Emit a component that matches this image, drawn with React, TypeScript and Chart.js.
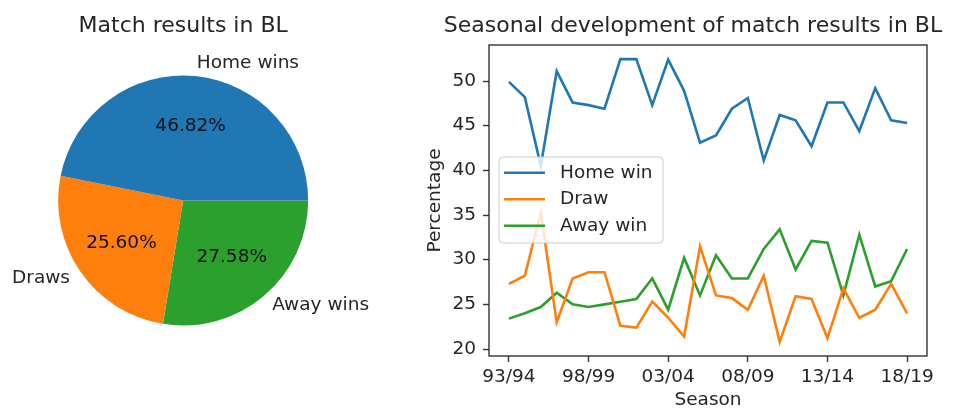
import React, { useEffect, useRef } from 'react';
import { Chart, registerables } from 'chart.js';
Chart.register(...registerables);

// ---------- data ----------
const pieLabels = ['Home wins', 'Draws', 'Away wins'];
const pieValues = [46.82, 25.6, 27.58];
const pieColors = ['#1f77b4', '#ff7f0e', '#2ca02c'];

const seasons = [
  '93/94', '94/95', '95/96', '96/97', '97/98', '98/99', '99/00', '00/01', '01/02',
  '02/03', '03/04', '04/05', '05/06', '06/07', '07/08', '08/09', '09/10', '10/11',
  '11/12', '12/13', '13/14', '14/15', '15/16', '16/17', '17/18', '18/19',
];
const homeWin = [
  49.9, 48.2, 40.5, 51.1, 47.6, 47.3, 46.9, 52.45, 52.45, 47.3, 52.4, 48.9, 43.1,
  43.9, 46.9, 48.1, 41.1, 46.2, 45.6, 42.7, 47.6, 47.6, 44.4, 49.2, 45.6, 45.3,
];
const draw = [
  27.3, 28.2, 35.3, 23.0, 27.9, 28.6, 28.6, 22.6, 22.4, 25.3, 23.5, 21.4, 31.5,
  26.0, 25.7, 24.4, 28.2, 20.8, 25.9, 25.6, 21.2, 26.8, 23.5, 24.4, 27.3, 24.0,
];
const awayWin = [
  23.4, 24.0, 24.7, 26.3, 25.0, 24.7, 25.0, 25.3, 25.6, 27.9, 24.4, 30.2, 26.0,
  30.5, 27.9, 27.9, 31.2, 33.4, 28.9, 32.1, 31.9, 26.0, 32.8, 27.0, 27.6, 31.2,
];
const seriesNames = ['Home win', 'Draw', 'Away win'];
const seriesColors = ['#1f77b4', '#ff7f0e', '#2ca02c'];
const yTickValues = [20, 25, 30, 35, 40, 45, 50];
const xTickIndices = [0, 5, 10, 15, 20, 25];

const FONT = '"DejaVu Sans", sans-serif';
const TEXT = '#262626';
const AXIS = '#333333';
const SMALL = 18.5;
const BIG = 22;

// ---------- plugins ----------
const pieTextPlugin = {
  id: 'pieText',
  afterDraw(chart: any) {
    const ctx = chart.ctx;
    const meta = chart.getDatasetMeta(0);
    const labels = chart.data.labels;
    const vals = chart.data.datasets[0].data;
    ctx.save();
    ctx.fillStyle = TEXT;
    ctx.textBaseline = 'middle';
    meta.data.forEach((arc: any, i: number) => {
      const p = arc.getProps(['x', 'y', 'startAngle', 'endAngle', 'outerRadius'], true);
      const mid = (p.startAngle + p.endAngle) / 2;
      const c = Math.cos(mid);
      const s = Math.sin(mid);
      ctx.font = `${SMALL}px ${FONT}`;
      ctx.textAlign = c >= 0 ? 'left' : 'right';
      ctx.fillText(labels[i], p.x + c * p.outerRadius * 1.1, p.y + s * p.outerRadius * 1.1);
      ctx.textAlign = 'center';
      ctx.fillStyle = '#111';
      ctx.fillText(Number(vals[i]).toFixed(2) + '%', p.x + c * p.outerRadius * 0.6, p.y + s * p.outerRadius * 0.6);
      ctx.fillStyle = TEXT;
    });
    ctx.font = `${BIG}px ${FONT}`;
    ctx.textAlign = 'center';
    ctx.fillText('Match results in BL', meta.data[0].x, 26);
    ctx.restore();
  },
};

const lineDecorPlugin = {
  id: 'lineDecor',
  afterDraw(chart: any) {
    const ctx = chart.ctx;
    const { left, top, right, bottom } = chart.chartArea;
    ctx.save();
    // frame
    ctx.strokeStyle = AXIS;
    ctx.lineWidth = 1.4;
    ctx.strokeRect(left, top, right - left, bottom - top);
    // title
    ctx.fillStyle = TEXT;
    ctx.font = `${BIG}px ${FONT}`;
    ctx.textAlign = 'center';
    ctx.textBaseline = 'middle';
    ctx.fillText('Seasonal development of match results in BL', 273, 26);
    // legend
    const bx = left + 10;
    const by = top + 112;
    const bw = 164;
    const bh = 86;
    ctx.beginPath();
    ctx.roundRect(bx, by, bw, bh, 4);
    ctx.fillStyle = 'rgba(255,255,255,0.8)';
    ctx.fill();
    ctx.strokeStyle = '#cccccc';
    ctx.lineWidth = 1;
    ctx.stroke();
    chart.data.datasets.forEach((ds: any, i: number) => {
      const ly = by + 15.7 + i * 26.5;
      ctx.beginPath();
      ctx.moveTo(left + 15, ly);
      ctx.lineTo(left + 56, ly);
      ctx.strokeStyle = ds.borderColor;
      ctx.lineWidth = 2.6;
      ctx.stroke();
      ctx.fillStyle = TEXT;
      ctx.font = `${SMALL}px ${FONT}`;
      ctx.textAlign = 'left';
      ctx.textBaseline = 'middle';
      ctx.fillText(ds.label, left + 71, ly);
    });
    ctx.restore();
  },
};

export default function App() {
  const pieRef = useRef<HTMLCanvasElement>(null);
  const lineRef = useRef<HTMLCanvasElement>(null);

  useEffect(() => {
    const order = [2, 1, 0]; // clockwise drawing to mimic counter-clockwise matplotlib pie
    const pie = new Chart(pieRef.current as HTMLCanvasElement, {
      type: 'pie',
      data: {
        labels: order.map((i) => pieLabels[i]),
        datasets: [
          {
            data: order.map((i) => pieValues[i]),
            backgroundColor: order.map((i) => pieColors[i]),
            borderWidth: 0,
            hoverOffset: 0,
          },
        ],
      },
      options: {
        responsive: false,
        animation: false,
        events: [],
        rotation: 90,
        layout: { padding: { left: 58, top: 75.5, right: 111.7, bottom: 84.5 } },
        plugins: { legend: { display: false }, tooltip: { enabled: false }, title: { display: false } },
      },
      plugins: [pieTextPlugin],
    } as any);

    const all = [...homeWin, ...draw, ...awayWin];
    const lo = Math.min(...all);
    const hi = Math.max(...all);
    const yPad = (hi - lo) * 0.05;
    const xPad = (seasons.length - 1) * 0.05;
    const seriesData = [homeWin, draw, awayWin];

    const tickFont = { family: FONT, size: SMALL };
    const line = new Chart(lineRef.current as HTMLCanvasElement, {
      type: 'line',
      data: {
        datasets: seriesData.map((arr, k) => ({
          label: seriesNames[k],
          data: arr.map((v, i) => ({ x: i, y: v })),
          borderColor: seriesColors[k],
          backgroundColor: seriesColors[k],
          borderWidth: 2.6,
          pointRadius: 0,
          tension: 0,
          fill: false,
        })),
      },
      options: {
        responsive: false,
        animation: false,
        events: [],
        layout: { padding: { left: 0, top: 45, right: 44, bottom: 0 } },
        plugins: { legend: { display: false }, tooltip: { enabled: false }, title: { display: false } },
        scales: {
          x: {
            type: 'linear',
            min: -xPad,
            max: seasons.length - 1 + xPad,
            afterBuildTicks: (s: any) => {
              s.ticks = xTickIndices.map((v) => ({ value: v }));
            },
            afterFit: (s: any) => {
              s.height = 54;
            },
            ticks: {
              callback: (v: any) => seasons[v],
              font: tickFont,
              color: TEXT,
              padding: 4,
              maxRotation: 0,
              autoSkip: false,
            },
            grid: { display: true, drawOnChartArea: false, drawTicks: true, tickLength: 6, tickColor: AXIS, tickWidth: 1.4 },
            border: { display: false },
            title: { display: true, text: 'Season', font: tickFont, color: TEXT, padding: { top: 0, bottom: -1 } },
          },
          y: {
            type: 'linear',
            min: lo - yPad,
            max: hi + yPad,
            afterBuildTicks: (s: any) => {
              s.ticks = yTickValues.map((v) => ({ value: v }));
            },
            afterFit: (s: any) => {
              s.width = 69;
            },
            ticks: { font: tickFont, color: TEXT, padding: 7 },
            grid: { display: true, drawOnChartArea: false, drawTicks: true, tickLength: 6, tickColor: AXIS, tickWidth: 1.4 },
            border: { display: false },
            title: { display: true, text: 'Percentage', font: tickFont, color: TEXT, padding: 4 },
          },
        },
      },
      plugins: [lineDecorPlugin],
    } as any);

    return () => {
      pie.destroy();
      line.destroy();
    };
  }, []);

  return (
    <div style={{ position: 'fixed', left: 0, top: 0, width: 971, height: 410, background: '#fff' }}>
      <canvas
        ref={pieRef}
        width={420}
        height={410}
        style={{ position: 'absolute', left: 0, top: 0, width: 420, height: 410 }}
      />
      <canvas
        ref={lineRef}
        width={551}
        height={410}
        style={{ position: 'absolute', left: 420, top: 0, width: 551, height: 410 }}
      />
    </div>
  );
}
